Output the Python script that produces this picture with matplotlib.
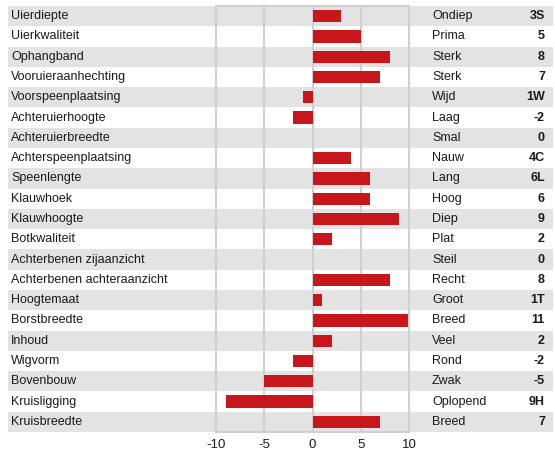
import matplotlib
matplotlib.use("Agg")
import matplotlib.pyplot as plt
import matplotlib.transforms as mtransforms

# ---------------------------------------------------------
# data
# ---------------------------------------------------------
traits = [
    "Uierdiepte", "Uierkwaliteit", "Ophangband", "Vooruieraanhechting",
    "Voorspeenplaatsing", "Achteruierhoogte", "Achteruierbreedte",
    "Achterspeenplaatsing", "Speenlengte", "Klauwhoek", "Klauwhoogte",
    "Botkwaliteit", "Achterbenen zijaanzicht", "Achterbenen achteraanzicht",
    "Hoogtemaat", "Borstbreedte", "Inhoud", "Wigvorm", "Bovenbouw",
    "Kruisligging", "Kruisbreedte",
]
values = [3, 5, 8, 7, -1, -2, 0, 4, 6, 6, 9, 2, 0, 8, 1, 11, 2, -2, -5, -9, 7]
descriptions = [
    "Ondiep", "Prima", "Sterk", "Sterk", "Wijd", "Laag", "Smal", "Nauw",
    "Lang", "Hoog", "Diep", "Plat", "Steil", "Recht", "Groot", "Breed",
    "Veel", "Rond", "Zwak", "Oplopend", "Breed",
]
scores = ["3S", "5", "8", "7", "1W", "-2", "0", "4C", "6L", "6", "9", "2",
          "0", "8", "1T", "11", "2", "-2", "-5", "9H", "7"]
xticks = [-10, -5, 0, 5, 10]

# ---------------------------------------------------------
# layout
# ---------------------------------------------------------
W, H = 555, 451
plt.rcParams["font.family"] = ["Liberation Sans", "DejaVu Sans"]
fig = plt.figure(figsize=(W / 100, H / 100), dpi=100)
fig.patch.set_facecolor("white")

ax = fig.add_axes([216 / W, 19 / H, 193 / W, 426 / H])
ax.set_facecolor("none")
n = len(traits)
ax.set_ylim(n - 0.5, -0.5)
ax.set_xlim(-10, 10)

band = "#e3e3e3"
line_col = "#d0d0d0"
txt_col = "#1a1a1a"

# row bands across the whole figure width
tr = mtransforms.blended_transform_factory(fig.transFigure, ax.transData)
for i in range(n):
    if i % 2 == 0:
        r = plt.Rectangle((8 / W, i - 0.5), 545 / W, 1, transform=tr,
                          facecolor=band, edgecolor="none", clip_on=False, zorder=0)
        fig.add_artist(r)

for x in [-5, 0, 5]:
    ax.axvline(x, color=line_col, lw=1.5, zorder=1)

ax.barh(range(n), values, height=0.6, color="#c8161d", zorder=2)

for s in ax.spines.values():
    s.set_color(line_col)
    s.set_linewidth(1.5)

ax.set_yticks([])
ax.set_xticks(xticks)
ax.set_xticklabels([str(t) for t in xticks])
ax.tick_params(axis="x", length=0, pad=5, labelsize=9.5, labelcolor=txt_col)

fs = 9
for i in range(n):
    ax.text(11 / W, i, traits[i], transform=tr, fontsize=fs, color=txt_col,
            va="center", ha="left", clip_on=False)
    ax.text(432 / W, i, descriptions[i], transform=tr, fontsize=fs,
            color=txt_col, va="center", ha="left", clip_on=False)
    ax.text(545 / W, i, scores[i], transform=tr, fontsize=fs,
            color=txt_col, va="center", ha="right", fontweight="bold",
            clip_on=False)

plt.savefig("out.png", dpi=100)
